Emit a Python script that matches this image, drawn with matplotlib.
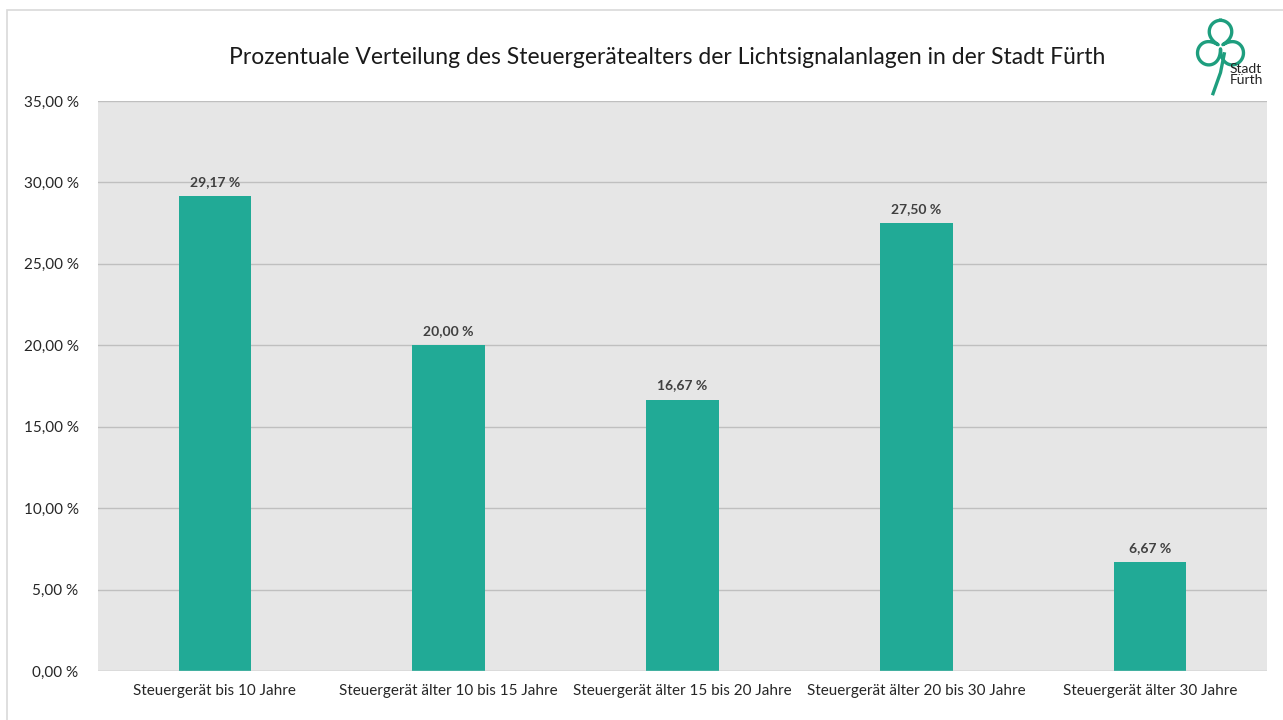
import matplotlib
matplotlib.use("Agg")
import matplotlib.pyplot as plt
import numpy as np
from matplotlib.patches import Rectangle

categories = ["Steuergerät bis 10 Jahre", "Steuergerät älter 10 bis 15 Jahre",
              "Steuergerät älter 15 bis 20 Jahre", "Steuergerät älter 20 bis 30 Jahre",
              "Steuergerät älter 30 Jahre"]
values = [29.17, 20.00, 16.67, 27.50, 6.67]
yticks = [0, 5, 10, 15, 20, 25, 30, 35]

plt.rcParams['font.family'] = ['Lato', 'DejaVu Sans']

W, H = 1283, 720
fig = plt.figure(figsize=(W/100, H/100), dpi=100)
fig.patch.set_facecolor('white')

# outer frame
fig.add_artist(Rectangle((7/W, -0.01), 1.2, 1 - 10/H + 0.01, transform=fig.transFigure,
                         fill=False, edgecolor='#D9D9D9', linewidth=1.2))

ax = fig.add_axes([98/W, 1 - 671/H, (1267-98)/W, (671-101)/H])
ax.set_facecolor('#E6E6E6')
x = np.arange(len(categories))
bars = ax.bar(x, values, width=0.31, color='#21AA96', zorder=3)
ax.set_xlim(-0.5, len(categories) - 0.5)
ax.set_ylim(0, 35)
ax.set_yticks(yticks)
ax.set_yticklabels([f"{v:.2f}".replace('.', ',') + " %" for v in yticks], fontsize=11, color='#262626')
ax.set_xticks(x)
ax.set_xticklabels(categories, fontsize=11, color='#262626')
ax.tick_params(axis='both', length=0)
ax.tick_params(axis='y', pad=14)
ax.tick_params(axis='x', pad=9)
ax.yaxis.grid(True, color='#BFBFBF', linewidth=1, zorder=0)
ax.set_axisbelow(True)
for s in ax.spines.values():
    s.set_visible(False)
ax.axhline(0, color='#D0D0D0', linewidth=1, zorder=4)

for xi, v in zip(x, values):
    ax.annotate(f"{v:.2f}".replace('.', ',') + " %", (xi, v), xytext=(0, 6),
                textcoords='offset points', ha='center', va='bottom',
                fontsize=10, fontweight='bold', color='#404040')

fig.text(667/W, 1 - 58/H, "Prozentuale Verteilung des Steuergerätealters der Lichtsignalanlagen in der Stadt Fürth",
         ha='center', va='center', fontsize=16.5, color='#1a1a1a')

# logo
lax = fig.add_axes([1192/W, 1 - 96/H, 75/W, 78/H])
lax.set_xlim(0, 1); lax.set_ylim(0, 1); lax.axis('off')
t = np.linspace(0, 2*np.pi, 400)
r = np.abs(np.cos(1.5*t))**0.5 * 0.33
cx, cy = 0.38, 0.64
lax.plot(cx + r*np.cos(t + np.pi/2), cy + r*np.sin(t + np.pi/2), color='#1E9E7E', lw=2.4)
lax.plot([cx + 0.05, cx, cx - 0.1], [cy - 0.1, 0.3, 0.03], color='#1E9E7E', lw=2.4)
lax.text(0.5, 0.28, "Stadt\nFürth", fontsize=10, color='#222222', ha='left', va='center', linespacing=0.9)

fig.savefig("out.png", dpi=100)
